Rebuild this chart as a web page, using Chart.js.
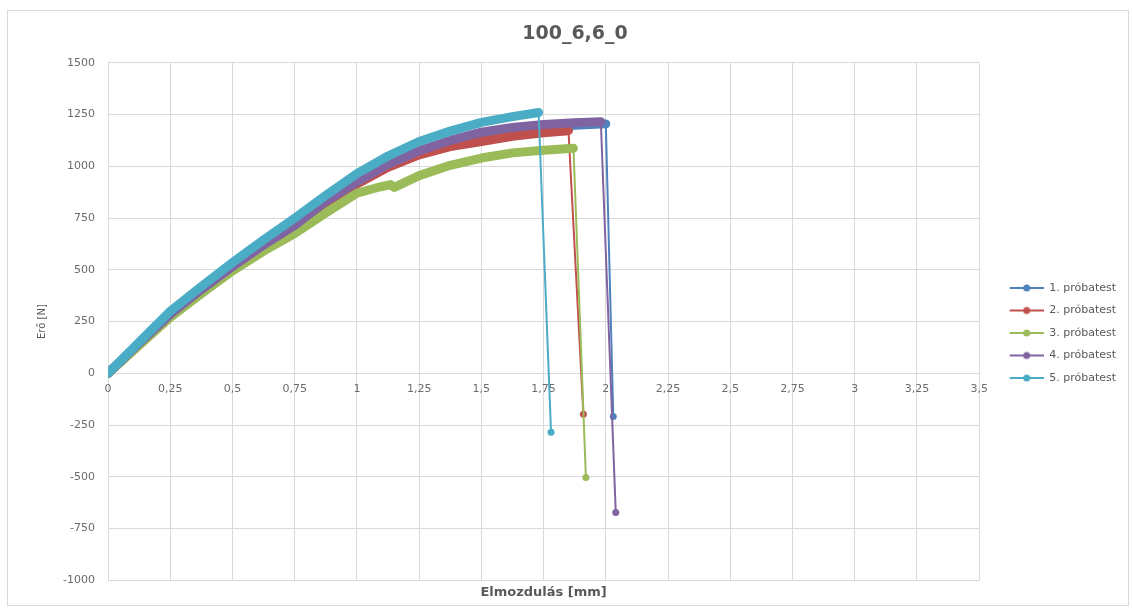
<!DOCTYPE html>
<html>
<head>
<meta charset="utf-8">
<script src="https://cdn.jsdelivr.net/npm/chart.js@4"></script>
<style>
  html, body { margin: 0; padding: 0; background: #fff; }
  #wrap { position: absolute; left: 0; top: 0; width: 1132px; height: 612px; }
  #frame { position: absolute; left: 7px; top: 10px; width: 1122px; height: 596px; border: 1px solid #d9d9d9; box-sizing: border-box; }
</style>
</head>
<body>
<div id="wrap">
  <div id="frame"></div>
  <canvas id="lineChart" width="1132" height="612"></canvas>
</div>
<script>
// elmozdulás [mm] / erő [N] minden próbatesthez
const x1 = [0, 0.125, 0.25, 0.375, 0.5, 0.625, 0.75, 0.875, 1, 1.125, 1.25, 1.375, 1.5, 1.625, 1.75, 1.875, 2.0, 2.03];
const y1 = [0, 142, 282, 402, 512, 615, 710, 822, 918, 1000, 1065, 1112, 1150, 1172, 1188, 1198, 1205, -208];

const x2 = [0, 0.125, 0.25, 0.375, 0.5, 0.625, 0.75, 0.875, 1, 1.125, 1.25, 1.375, 1.5, 1.625, 1.75, 1.85, 1.91];
const y2 = [0, 140, 280, 400, 510, 610, 705, 815, 915, 995, 1055, 1095, 1120, 1145, 1162, 1172, -198];

const x3 = [0, 0.125, 0.25, 0.375, 0.5, 0.625, 0.75, 0.875, 1, 1.09, 1.135, 1.15, 1.25, 1.375, 1.5, 1.625, 1.75, 1.87, 1.92];
const y3 = [0, 135, 270, 385, 495, 590, 675, 775, 870, 900, 912, 898, 955, 1005, 1040, 1065, 1078, 1087, -503];

const x4 = [0, 0.125, 0.25, 0.375, 0.5, 0.625, 0.75, 0.875, 1, 1.125, 1.25, 1.375, 1.5, 1.625, 1.75, 1.875, 1.98, 2.04];
const y4 = [0, 145, 285, 405, 515, 620, 715, 830, 925, 1010, 1075, 1125, 1165, 1188, 1202, 1210, 1215, -672];

const x5 = [0, 0.125, 0.25, 0.375, 0.5, 0.625, 0.75, 0.875, 1, 1.125, 1.25, 1.375, 1.5, 1.625, 1.73, 1.78];
const y5 = [0, 150, 300, 420, 535, 645, 750, 860, 965, 1050, 1120, 1170, 1212, 1240, 1260, -285];

const labels = ['1. próbatest', '2. próbatest', '3. próbatest', '4. próbatest', '5. próbatest'];
const colors = ['#4F81BD', '#C0504D', '#9BBB59', '#8064A2', '#4BACC6'];
const xs = [x1, x2, x3, x4, x5];
const ys = [y1, y2, y3, y4, y5];

const font = '"DejaVu Sans", sans-serif';
const grey = '#595959';

// kis vonal + pont a jelmagyarázathoz (bal oldalon üres hely)
function legendIcon(color) {
    const c = document.createElement('canvas');
    c.width = 53; c.height = 10;
    const g = c.getContext('2d');
    g.strokeStyle = color; g.lineWidth = 2;
    g.beginPath(); g.moveTo(19, 5); g.lineTo(53, 5); g.stroke();
    g.fillStyle = color;
    g.beginPath(); g.arc(36, 5, 3.5, 0, Math.PI * 2); g.fill();
    return c;
}
const icons = colors.map(legendIcon);

const datasets = labels.map((label, i) => {
    const last = xs[i].length - 1;
    return {
        label: label,
        data: xs[i].map((x, j) => ({ x: x, y: ys[i][j] })),
        borderColor: colors[i],
        backgroundColor: colors[i],
        showLine: true,
        borderCapStyle: 'round',
        borderJoinStyle: 'round',
        order: 5 - i,
        pointRadius: ctx => ctx.dataIndex === last ? 3.5 : 0,
        pointBorderWidth: 0,
        segment: {
            borderWidth: ctx => ctx.p1DataIndex === last ? 2 : 9
        }
    };
});

document.addEventListener('DOMContentLoaded', () => {
    const ctx = document.getElementById('lineChart')?.getContext('2d');
    if (!ctx) return;
    new Chart(ctx, {
        type: 'scatter',
        data: { datasets: datasets },
        options: {
            responsive: false,
            animation: false,
            layout: { padding: { left: 24, right: 6, top: 12, bottom: 12 } },
            plugins: {
                title: {
                    display: true,
                    text: '100_6,6_0',
                    color: grey,
                    font: { family: font, size: 19, weight: 'bold' },
                    padding: { top: 11, bottom: 17 }
                },
                legend: {
                    position: 'right',
                    title: { display: true, text: ' ', font: { size: 10 }, padding: { top: 42, bottom: 0 } },
                    labels: {
                        usePointStyle: true,
                        pointStyleWidth: 53,
                        color: grey,
                        font: { family: font, size: 11 },
                        padding: 11.5,
                        generateLabels: chart => chart.data.datasets.map((ds, i) => ({
                            text: ds.label,
                            pointStyle: icons[i],
                            fillStyle: ds.borderColor,
                            strokeStyle: ds.borderColor,
                            lineWidth: 0,
                            fontColor: grey,
                            hidden: false,
                            datasetIndex: i
                        }))
                    }
                },
                tooltip: { enabled: false }
            },
            scales: {
                x: {
                    type: 'linear',
                    position: { y: 0 },
                    min: 0,
                    max: 3.5,
                    grid: { color: '#d9d9d9', drawTicks: false },
                    border: { display: false },
                    ticks: {
                        stepSize: 0.25,
                        color: '#6b6b6b',
                        padding: 9,
                        maxRotation: 0,
                        font: { family: font, size: 11 },
                        callback: v => String(v).replace('.', ',')
                    }
                },
                // csak a vízszintes tengely címéhez, alul
                xTitle: {
                    type: 'linear',
                    axis: 'x',
                    position: 'bottom',
                    min: 0,
                    max: 3.5,
                    grid: { display: false, drawTicks: false },
                    border: { display: false },
                    ticks: { display: false },
                    title: {
                        display: true,
                        text: 'Elmozdulás [mm]',
                        color: grey,
                        font: { family: font, size: 13, weight: 'bold' },
                        padding: { top: 4, bottom: 0 }
                    }
                },
                y: {
                    min: -1000,
                    max: 1500,
                    grid: { color: '#d9d9d9', drawTicks: false },
                    border: { display: false },
                    ticks: {
                        stepSize: 250,
                        color: '#6b6b6b',
                        padding: 13,
                        font: { family: font, size: 11 },
                        callback: v => String(v)
                    },
                    title: {
                        display: true,
                        text: 'Erő [N]',
                        color: grey,
                        font: { family: font, size: 10 },
                        padding: { top: 12, bottom: 14 }
                    },
                    afterFit: scale => { scale.width = 84; }
                }
            }
        }
    });
});
</script>
</body>
</html>
